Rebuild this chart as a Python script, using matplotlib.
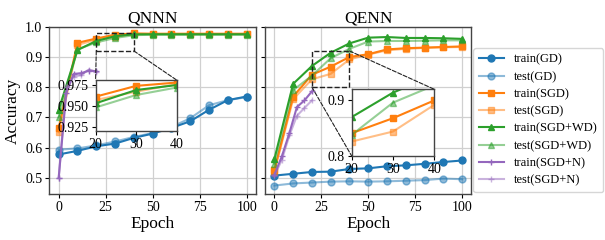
import matplotlib
matplotlib.use("Agg")
import matplotlib.pyplot as plt
from matplotlib.patches import Rectangle, ConnectionPatch

plt.rcParams['font.family'] = ['Liberation Serif', 'DejaVu Serif']
plt.rcParams['mathtext.fontset'] = 'stix'

epochs = [0, 10, 20, 30, 40, 50, 60, 70, 80, 90, 100]
epochs_n = [0, 4, 8, 12, 16, 20]

# QNNN
q_train_gd = [0.577, 0.589, 0.604, 0.613, 0.632, 0.646, 0.665, 0.687, 0.725, 0.757, 0.769]
q_test_gd = [0.593, 0.597, 0.607, 0.620, 0.635, 0.648, 0.668, 0.697, 0.740, 0.757, 0.767]
q_train_sgd = [0.665, 0.947, 0.961, 0.974, 0.978, 0.977, 0.977, 0.977, 0.977, 0.977, 0.977]
q_test_sgd = [0.650, 0.940, 0.957, 0.967, 0.976, 0.976, 0.976, 0.976, 0.976, 0.976, 0.976]
q_train_wd = [0.725, 0.923, 0.953, 0.969, 0.975, 0.975, 0.975, 0.975, 0.975, 0.975, 0.975]
q_test_wd = [0.700, 0.925, 0.948, 0.963, 0.972, 0.974, 0.974, 0.974, 0.974, 0.974, 0.974]
q_train_n = [0.500, 0.780, 0.844, 0.846, 0.855, 0.853]
q_test_n = [0.500, 0.800, 0.835, 0.840, 0.858, 0.850]

# QENN
e_train_gd = [0.507, 0.513, 0.519, 0.520, 0.529, 0.531, 0.538, 0.541, 0.546, 0.552, 0.557]
e_test_gd = [0.474, 0.481, 0.484, 0.487, 0.488, 0.487, 0.488, 0.490, 0.492, 0.497, 0.495]
e_train_sgd = [0.525, 0.769, 0.841, 0.868, 0.900, 0.909, 0.925, 0.929, 0.931, 0.933, 0.935]
e_test_sgd = [0.520, 0.760, 0.826, 0.844, 0.892, 0.908, 0.922, 0.927, 0.930, 0.932, 0.933]
e_train_wd = [0.562, 0.811, 0.870, 0.914, 0.945, 0.964, 0.966, 0.963, 0.963, 0.962, 0.960]
e_test_wd = [0.547, 0.790, 0.838, 0.896, 0.927, 0.951, 0.953, 0.953, 0.954, 0.955, 0.955]
e_train_n = [0.510, 0.571, 0.648, 0.734, 0.756, 0.786]
e_test_n = [0.505, 0.560, 0.640, 0.705, 0.731, 0.756]

labels = ['train(GD)', 'test(GD)', 'train(SGD)', 'test(SGD)',
          'train(SGD+WD)', 'test(SGD+WD)', 'train(SGD+N)', 'test(SGD+N)']

colors = ['#1f77b4', '#ff7f0e', '#2ca02c', '#9467bd']
markers = ['o', 's', '^', '+']

fig = plt.figure(figsize=(6.05, 2.4), dpi=100)
axL = fig.add_axes([0.0815, 0.1904, 0.3417, 0.698])
axR = fig.add_axes([0.438, 0.1904, 0.3413, 0.698], sharey=axL)


def plot_set(ax, data, ms=5, lw=1.5, with_label=True):
    handles = []
    for i, (tr, te, xs) in enumerate(data):
        c = colors[i]
        m = markers[i]
        h1, = ax.plot(xs, tr, color=c, marker=m, ms=ms, lw=lw,
                      label=labels[2 * i] if with_label else None)
        h2, = ax.plot(xs, te, color=c, marker=m, ms=ms, lw=lw, alpha=0.5,
                      label=labels[2 * i + 1] if with_label else None)
        handles += [h1, h2]
    return handles


q_data = [(q_train_gd, q_test_gd, epochs), (q_train_sgd, q_test_sgd, epochs),
          (q_train_wd, q_test_wd, epochs), (q_train_n, q_test_n, epochs_n)]
e_data = [(e_train_gd, e_test_gd, epochs), (e_train_sgd, e_test_sgd, epochs),
          (e_train_wd, e_test_wd, epochs), (e_train_n, e_test_n, epochs_n)]

handles = plot_set(axL, q_data)
plot_set(axR, e_data)

for ax, title in [(axL, 'QNNN'), (axR, 'QENN')]:
    ax.set_xlim(-5, 105)
    ax.set_xticks([0, 25, 50, 75, 100])
    ax.grid(True, color='#d0d0d0', lw=0.9)
    ax.set_axisbelow(True)
    ax.set_title(title, fontsize=12.5, pad=3)
    ax.set_xlabel('Epoch', fontsize=12.5, labelpad=1)
    ax.tick_params(labelsize=10, length=3, pad=2)
    for s in ax.spines.values():
        s.set_color('#444444')
        s.set_linewidth(1.0)

axL.set_ylim(0.445, 1.0)
axL.set_yticks([0.5, 0.6, 0.7, 0.8, 0.9, 1.0])
axL.set_ylabel('Accuracy', fontsize=12.5, labelpad=3)
plt.setp(axR.get_yticklabels(), visible=False)

# insets
insL = fig.add_axes([0.158, 0.4554, 0.134, 0.211])
plot_set(insL, q_data, with_label=False)
insL.set_xlim(20, 40)
insL.set_ylim(0.92, 0.981)
insL.set_xticks([20, 30, 40])
insL.set_yticks([0.925, 0.950, 0.975])
insL.set_yticklabels(['0.925', '0.950', '0.975'])

insR = fig.add_axes([0.5813, 0.35, 0.1365, 0.278])
plot_set(insR, e_data, with_label=False)
insR.set_xlim(20, 40)
insR.set_ylim(0.8, 0.92)
insR.set_xticks([20, 30, 40])
insR.set_yticks([0.8, 0.9])

for ins in (insL, insR):
    ins.tick_params(labelsize=10, length=3, pad=2)
    for s in ins.spines.values():
        s.set_color('#444444')
        s.set_linewidth(1.0)
    ins.set_facecolor('white')

# zoom rectangles and connectors
axL.add_patch(Rectangle((20, 0.92), 20, 0.061, fill=False, ls='--', lw=1.0, ec='#222222', zorder=5))
axR.add_patch(Rectangle((20, 0.80), 20, 0.12, fill=False, ls='--', lw=1.0, ec='#222222', zorder=5))

for (xa, ya, xb, yb, ax, ins) in [
        (20, 0.92, 0, 1, axL, insL), (40, 0.92, 1, 1, axL, insL),
        (20, 0.80, 0, 0, axR, insR), (40, 0.92, 1, 1, axR, insR)]:
    cp = ConnectionPatch(xyA=(xa, ya), coordsA=ax.transData,
                         xyB=(xb, yb), coordsB=ins.transAxes,
                         ls='--', lw=0.8, color='#222222', zorder=4)
    fig.add_artist(cp)

leg = fig.legend(handles=handles, labels=labels, loc='center left',
                 bbox_to_anchor=(0.782, 0.50), fontsize=9, frameon=True,
                 handlelength=2.0, labelspacing=0.42, borderpad=0.45,
                 handletextpad=0.8, borderaxespad=0.0)
leg.get_frame().set_edgecolor('#cccccc')

fig.savefig('out.png', dpi=100)
